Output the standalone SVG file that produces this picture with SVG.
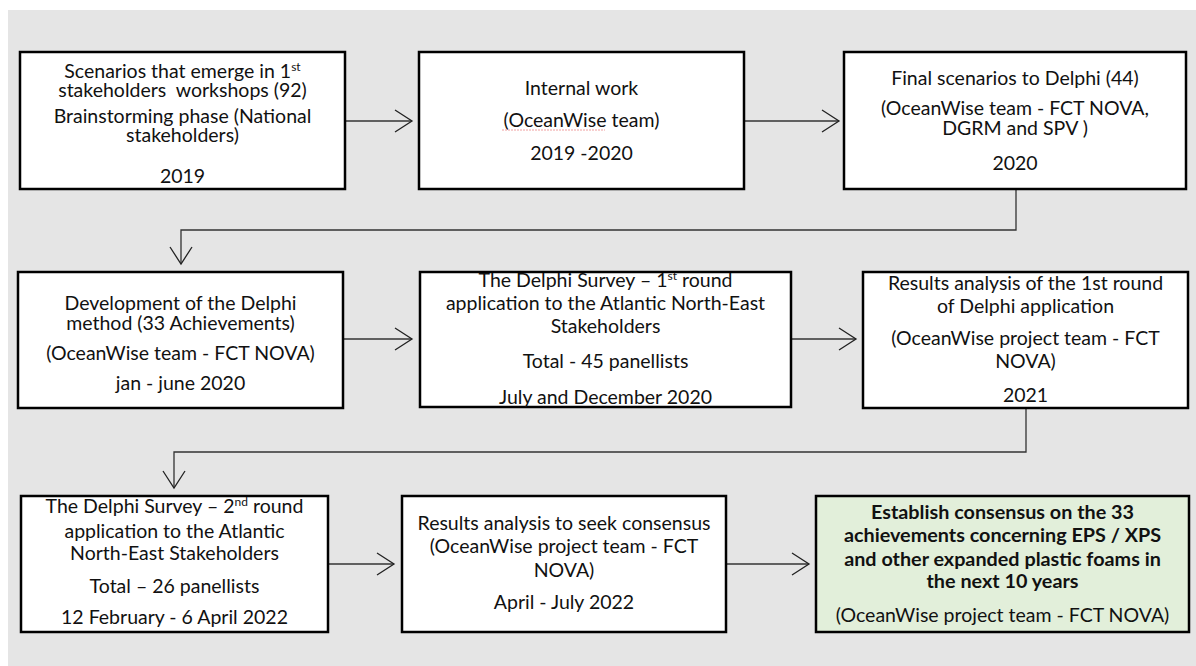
<svg xmlns="http://www.w3.org/2000/svg" width="1196" height="666" viewBox="0 0 1196 666">
<defs>
<marker id="arr" viewBox="0 0 20 24" refX="18" refY="12" markerWidth="20" markerHeight="24" markerUnits="userSpaceOnUse" orient="auto">
<path d="M1,1 L18,12 L1,23" fill="none" stroke="#222" stroke-width="1.3"/>
</marker>
<style>
.box{fill:#fff;stroke:#000;stroke-width:2.5}
.green{fill:#e2efda}
.t{font-family:Lato,"Liberation Sans",sans-serif;font-size:19.5px;fill:#111;text-anchor:middle}
.b{font-weight:bold;font-size:19.8px}
.c{fill:none;stroke:#333;stroke-width:1.3}
.sup{font-size:12px}
</style>
</defs>
<rect x="8" y="10" width="1188" height="656" fill="#e5e5e5"/>
<g id="connectors">
<line class="c" x1="345" y1="121" x2="412" y2="121" marker-end="url(#arr)"/>
<line class="c" x1="744" y1="121" x2="839" y2="121" marker-end="url(#arr)"/>
<polyline class="c" points="1016,189 1016,230 181,230 181,264" marker-end="url(#arr)"/>
<line class="c" x1="343" y1="339" x2="412" y2="339" marker-end="url(#arr)"/>
<line class="c" x1="791" y1="339" x2="856" y2="339" marker-end="url(#arr)"/>
<polyline class="c" points="1026,408 1026,452 174,452 174,488" marker-end="url(#arr)"/>
<line class="c" x1="328" y1="564" x2="394" y2="564" marker-end="url(#arr)"/>
<line class="c" x1="726" y1="564" x2="809" y2="564" marker-end="url(#arr)"/>
</g>
<g id="n1">
<rect class="box" x="20" y="52" width="325" height="137"/>
<text class="t" x="182.5" y="78">Scenarios that emerge in 1<tspan class="sup" dy="-7">st</tspan></text>
<text class="t" x="182.5" y="97">stakeholders&#160; workshops (92)</text>
<text class="t" x="182.5" y="123">Brainstorming phase (National</text>
<text class="t" x="182.5" y="142">stakeholders)</text>
<text class="t" x="182.5" y="183">2019</text>
</g>
<g id="n2">
<rect class="box" x="419" y="52" width="325" height="137"/>
<text class="t" x="581.5" y="95">Internal work</text>
<text class="t" x="581.5" y="127">(OceanWise team)</text>
<line x1="502" y1="130" x2="605" y2="130" stroke="#f0a0a0" stroke-width="1" stroke-dasharray="2,1"/>
<text class="t" x="581.5" y="160">2019 -2020</text>
</g>
<g id="n3">
<rect class="box" x="844" y="52" width="342" height="137"/>
<text class="t" x="1015" y="85">Final scenarios to Delphi (44)</text>
<text class="t" x="1015" y="115">(OceanWise team - FCT NOVA,</text>
<text class="t" x="1015" y="135">DGRM and SPV )</text>
<text class="t" x="1015" y="170">2020</text>
</g>
<g id="n4">
<rect class="box" x="18" y="272" width="325" height="136"/>
<text class="t" x="180.5" y="310">Development of the Delphi</text>
<text class="t" x="180.5" y="330">method (33 Achievements)</text>
<text class="t" x="180.5" y="360">(OceanWise team - FCT NOVA)</text>
<text class="t" x="180.5" y="390">jan - june 2020</text>
</g>
<g id="n5">
<rect class="box" x="420" y="272" width="371" height="135"/>
<text class="t" x="605.5" y="287">The Delphi Survey – 1<tspan class="sup" dy="-7">st</tspan><tspan dy="7"> round</tspan></text>
<text class="t" x="605.5" y="310">application to the Atlantic North-East</text>
<text class="t" x="605.5" y="333">Stakeholders</text>
<text class="t" x="605.5" y="368">Total - 45 panellists</text>
<text class="t" x="605.5" y="404">July and December 2020</text>
</g>
<g id="n6">
<rect class="box" x="863" y="272" width="325" height="136"/>
<text class="t" x="1025.5" y="290">Results analysis of the 1st round</text>
<text class="t" x="1025.5" y="313">of Delphi application</text>
<text class="t" x="1025.5" y="345">(OceanWise project team - FCT</text>
<text class="t" x="1025.5" y="368">NOVA)</text>
<text class="t" x="1025.5" y="402">2021</text>
</g>
<g id="n7">
<rect class="box" x="21" y="496" width="307" height="136"/>
<text class="t" x="174.5" y="513">The Delphi Survey – 2<tspan class="sup" dy="-7">nd</tspan><tspan dy="7"> round</tspan></text>
<text class="t" x="174.5" y="538">application to the Atlantic</text>
<text class="t" x="174.5" y="560">North-East Stakeholders</text>
<text class="t" x="174.5" y="593">Total – 26 panellists</text>
<text class="t" x="174.5" y="624">12 February - 6 April 2022</text>
</g>
<g id="n8">
<rect class="box" x="402" y="496" width="324" height="136"/>
<text class="t" x="564" y="530">Results analysis to seek consensus</text>
<text class="t" x="564" y="553">(OceanWise project team - FCT</text>
<text class="t" x="564" y="577">NOVA)</text>
<text class="t" x="564" y="609">April - July 2022</text>
</g>
<g id="n9">
<rect class="box green" x="816" y="496" width="373" height="136"/>
<text class="t b" x="1002.5" y="519">Establish consensus on the 33</text>
<text class="t b" x="1002.5" y="542">achievements concerning EPS / XPS</text>
<text class="t b" x="1002.5" y="566">and other expanded plastic foams in</text>
<text class="t b" x="1002.5" y="588">the next 10 years</text>
<text class="t" x="1002.5" y="622">(OceanWise project team - FCT NOVA)</text>
</g>
</svg>
